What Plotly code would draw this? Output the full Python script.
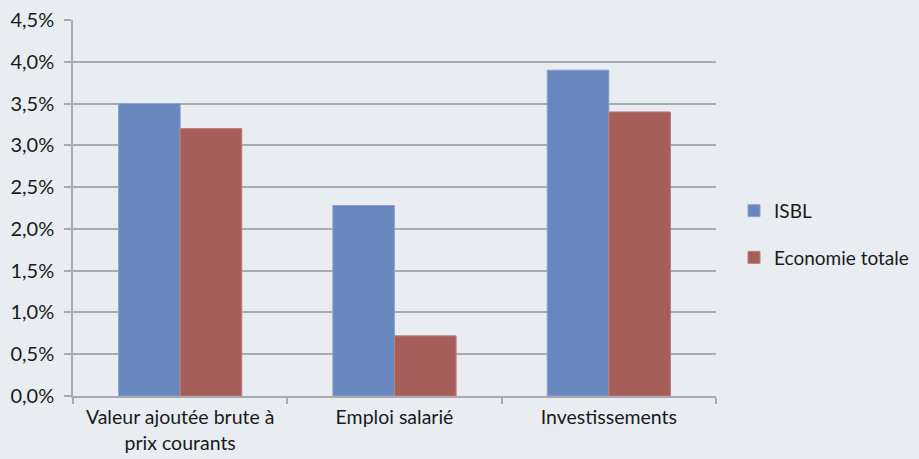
import plotly.graph_objects as go

categories = ["Valeur ajoutée brute à<br>prix courants", "Emploi salarié", "Investissements"]
isbl = [0.035, 0.0228, 0.039]
eco_totale = [0.032, 0.0072, 0.034]
series_names = ["ISBL", "Economie totale"]

FONT = "Lato"
GRID = "#A8ABB0"
BG = "#E9EDF2"

fig = go.Figure()
fig.add_trace(go.Bar(x=categories, y=isbl, name=series_names[0], legendgroup="a",
                     marker=dict(color="#6787BE", line=dict(color="#8AA3CF", width=1))))
fig.add_trace(go.Bar(x=categories, y=eco_totale, name=series_names[1], legendgroup="b",
                     marker=dict(color="#A65E5B", line=dict(color="#BE7C79", width=1))))

fig.update_layout(
    width=919, height=459,
    paper_bgcolor=BG, plot_bgcolor=BG,
    margin=dict(l=73, r=203, t=20, b=63, autoexpand=False),
    barmode="group", bargap=0.425, bargroupgap=0,
    separators=", ",
    font=dict(family=FONT, size=20, color="#1a1a1a"),
    legend=dict(x=1.028, y=0.43, yanchor="middle", xanchor="left",
                bgcolor="rgba(0,0,0,0)", tracegroupgap=19,
                font=dict(family=FONT, size=19), itemwidth=30),
    showlegend=True,
)
fig.update_yaxes(range=[0, 0.045], dtick=0.005, tickformat=".1%",
                 showgrid=True, gridcolor=GRID, gridwidth=1.5,
                 showline=True, linecolor=GRID, linewidth=1.5,
                 ticks="outside", ticklen=7, tickcolor=GRID, tickwidth=1.5,
                 ticklabelstandoff=6, automargin=False,
                 zeroline=False, tickfont=dict(size=20))
fig.update_xaxes(showline=True, linecolor=GRID, linewidth=1.5,
                 ticks="outside", tickson="boundaries", ticklen=6,
                 tickcolor=GRID, tickwidth=1.5, ticklabelstandoff=3,
                 automargin=False, tickfont=dict(size=19.5))

fig.write_html("out.html", config={"displayModeBar": False},
               post_script="document.body.style.margin='0';document.body.style.background='" + BG + "';")
